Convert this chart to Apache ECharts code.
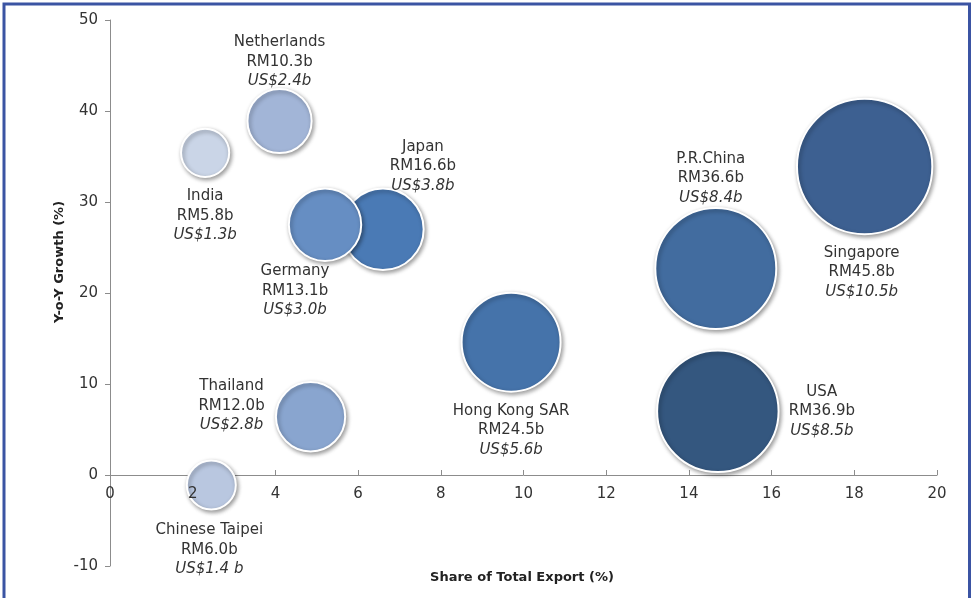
<!DOCTYPE html>
<html>
<head>
<meta charset="utf-8">
<script src="https://cdn.jsdelivr.net/npm/echarts@6/dist/echarts.min.js"></script>
<style>
html,body{margin:0;padding:0;background:#fff;}
#chart{width:975px;height:598px;}
</style>
</head>
<body>
<div id="chart"></div>
<script>
// ---- data ----
const countries = ["Singapore", "P.R.China", "USA", "Hong Kong SAR", "Japan", "Germany", "Netherlands", "India", "Thailand", "Chinese Taipei"];
const shareOfExport = [18.25, 14.65, 14.7, 9.7, 6.6, 5.2, 4.1, 2.3, 4.85, 2.45];
const yoyGrowth = [33.9, 22.7, 7.0, 14.6, 27.0, 27.5, 38.9, 35.4, 6.4, -1.1];
const rmBillion = [45.8, 36.6, 36.9, 24.5, 16.6, 13.1, 10.3, 5.8, 12.0, 6.0];
const rmLabels = ["RM45.8b", "RM36.6b", "RM36.9b", "RM24.5b", "RM16.6b", "RM13.1b", "RM10.3b", "RM5.8b", "RM12.0b", "RM6.0b"];
const usLabels = ["US$10.5b", "US$8.4b", "US$8.5b", "US$5.6b", "US$3.8b", "US$3.0b", "US$2.4b", "US$1.3b", "US$2.8b", "US$1.4 b"];
const xTicks = [0, 2, 4, 6, 8, 10, 12, 14, 16, 18, 20];
const yTicks = [-10, 0, 10, 20, 30, 40, 50];

// ---- styling (not data) ----
const bubbleColors = {
  "Singapore": "#3D6091", "P.R.China": "#426C9F", "USA": "#34577F", "Hong Kong SAR": "#4573AA",
  "Japan": "#4A7AB5", "Germany": "#668EC3", "Netherlands": "#A2B5D7", "India": "#CAD5E7",
  "Thailand": "#89A5CF", "Chinese Taipei": "#B9C7E0"
};
const labelOffsets = {
  "Singapore": [-3, 106], "P.R.China": [-5, -90], "USA": [104, 0], "Hong Kong SAR": [0, 88],
  "Japan": [40, -63], "Germany": [-30, 66], "Netherlands": [0, -59], "India": [0, 63],
  "Thailand": [-79, -11], "Chinese Taipei": [-2, 65]
};

const seriesData = countries.map((c, i) => ({
  name: c,
  value: [shareOfExport[i], yoyGrowth[i], rmBillion[i]],
  itemStyle: { color: bubbleColors[c] },
  label: {
    offset: labelOffsets[c],
    formatter: '{n|' + c + '}\n{n|' + rmLabels[i] + '}\n{u|' + usLabels[i] + '}'
  }
}));

const FONT = '"DejaVu Sans", sans-serif';
const GRID = { left: 110, right: 38, top: 20, bottom: 32 };
const plotH = 598 - GRID.top - GRID.bottom;
const yMin = yTicks[0], yMax = yTicks[yTicks.length - 1];
const xMin = xTicks[0], xMax = xTicks[xTicks.length - 1];
// lift the x axis (line, ticks, labels) up to the y = 0 position
const xAxisLift = -plotH * (0 - yMin) / (yMax - yMin);

const chart = echarts.init(document.getElementById('chart'), null, { renderer: 'canvas' });
chart.setOption({
  backgroundColor: '#ffffff',
  animation: false,
  textStyle: { fontFamily: FONT },
  grid: Object.assign({ containLabel: false, outerBoundsMode: 'none' }, GRID),
  xAxis: [{
    // axis line + ticks, drawn beneath the bubbles
    type: 'value', min: xMin, max: xMax, interval: 2,
    position: 'bottom', offset: xAxisLift, z: 0,
    axisLine: { onZero: false, lineStyle: { color: '#8c8c8c', width: 1 } },
    axisTick: { inside: true, length: 5, lineStyle: { color: '#8c8c8c' } },
    axisLabel: { show: false },
    splitLine: { show: false }
  }, {
    // tick labels, drawn above the bubbles
    type: 'value', min: xMin, max: xMax, interval: 2,
    position: 'bottom', offset: xAxisLift, z: 5,
    axisLine: { show: false, onZero: false },
    axisTick: { show: false },
    axisLabel: { color: '#333', fontSize: 15, fontFamily: FONT, margin: 12 },
    splitLine: { show: false }
  }],
  yAxis: {
    type: 'value', min: yMin, max: yMax, interval: 10,
    axisLine: { show: true, onZero: false, lineStyle: { color: '#8c8c8c', width: 1 } },
    axisTick: { show: true, inside: false, length: 5, lineStyle: { color: '#8c8c8c' } },
    axisLabel: { color: '#333', fontSize: 15, fontFamily: FONT, margin: 12 },
    splitLine: { show: false }
  },
  graphic: [
    { type: 'rect', shape: { x: 4, y: 4, width: 965.5, height: 620 }, style: { fill: 'none', stroke: '#3B54A3', lineWidth: 3 }, z: 100 },
    { type: 'text', x: 60, y: 262, rotation: Math.PI / 2,
      style: { text: 'Y-o-Y Growth (%)', fill: '#222', font: 'bold 13px ' + FONT, textAlign: 'center', textVerticalAlign: 'middle' } },
    { type: 'text', x: 522, y: 578,
      style: { text: 'Share of Total Export (%)', fill: '#222', font: 'bold 13px ' + FONT, textAlign: 'center', textVerticalAlign: 'middle' } }
  ],
  series: [{
    type: 'scatter',
    xAxisIndex: 0,
    data: seriesData,
    symbolSize: v => 20 * Math.sqrt(v[2]),
    itemStyle: {
      borderColor: '#ffffff', borderWidth: 2,
      shadowBlur: 4, shadowColor: 'rgba(0,0,0,0.38)', shadowOffsetX: 1.5, shadowOffsetY: 2,
      opacity: 1
    },
    label: {
      show: true, position: 'inside', align: 'center', verticalAlign: 'middle',
      rich: {
        n: { fontSize: 15, fontFamily: FONT, color: '#333', lineHeight: 19.5, align: 'center' },
        u: { fontSize: 15, fontFamily: FONT, color: '#333', fontStyle: 'italic', lineHeight: 19.5, align: 'center' }
      }
    },
    emphasis: { disabled: true }
  }]
});
</script>
</body>
</html>
